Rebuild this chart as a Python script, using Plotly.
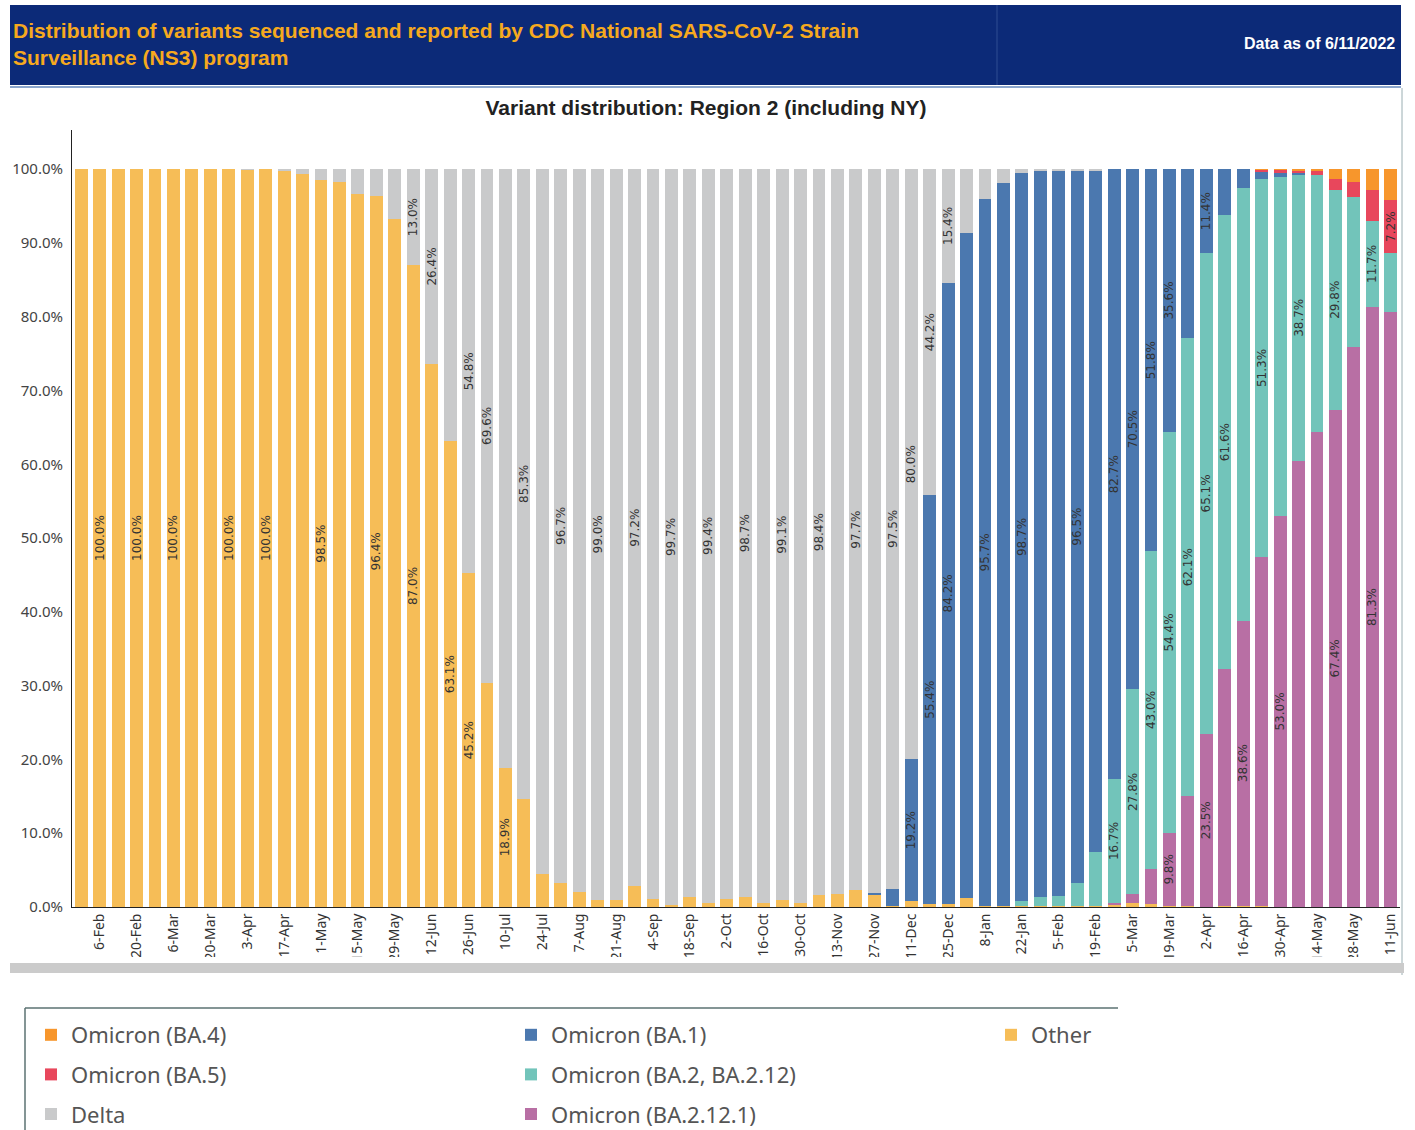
import plotly.graph_objects as go

# ---------------- data ----------------
weeks = ["30-Jan", "6-Feb", "13-Feb", "20-Feb", "27-Feb", "6-Mar", "13-Mar", "20-Mar", "27-Mar", "3-Apr",
         "10-Apr", "17-Apr", "24-Apr", "1-May", "8-May", "15-May", "22-May", "29-May", "5-Jun", "12-Jun",
         "19-Jun", "26-Jun", "3-Jul", "10-Jul", "17-Jul", "24-Jul", "31-Jul", "7-Aug", "14-Aug", "21-Aug",
         "28-Aug", "4-Sep", "11-Sep", "18-Sep", "25-Sep", "2-Oct", "9-Oct", "16-Oct", "23-Oct", "30-Oct",
         "6-Nov", "13-Nov", "20-Nov", "27-Nov", "4-Dec", "11-Dec", "18-Dec", "25-Dec", "1-Jan", "8-Jan",
         "15-Jan", "22-Jan", "29-Jan", "5-Feb", "12-Feb", "19-Feb", "26-Feb", "5-Mar", "12-Mar", "19-Mar",
         "26-Mar", "2-Apr", "9-Apr", "16-Apr", "23-Apr", "30-Apr", "7-May", "14-May", "21-May", "28-May",
         "4-Jun", "11-Jun"]

tick_weeks = ["6-Feb", "20-Feb", "6-Mar", "20-Mar", "3-Apr", "17-Apr", "1-May", "15-May", "29-May", "12-Jun",
              "26-Jun", "10-Jul", "24-Jul", "7-Aug", "21-Aug", "4-Sep", "18-Sep", "2-Oct", "16-Oct", "30-Oct",
              "13-Nov", "27-Nov", "11-Dec", "25-Dec", "8-Jan", "22-Jan", "5-Feb", "19-Feb", "5-Mar", "19-Mar",
              "2-Apr", "16-Apr", "30-Apr", "14-May", "28-May", "11-Jun"]

y_ticks = [0, 10, 20, 30, 40, 50, 60, 70, 80, 90, 100]
y_tick_text = ["0.0%", "10.0%", "20.0%", "30.0%", "40.0%", "50.0%", "60.0%", "70.0%", "80.0%", "90.0%", "100.0%"]

other = [100.0, 100.0, 100.0, 100.0, 100.0, 100.0, 100.0, 100.0, 100.0, 99.9,
         100.0, 99.8, 99.4, 98.5, 98.2, 96.6, 96.4, 93.2, 87.0, 73.6,
         63.1, 45.2, 30.4, 18.9, 14.7, 4.5, 3.3, 2.1, 1.0, 0.9,
         2.8, 1.1, 0.3, 1.4, 0.6, 1.1, 1.3, 0.5, 0.9, 0.6,
         1.6, 1.7, 2.3, 1.7, 0.2, 0.8, 0.4, 0.4, 1.2, 0.2,
         0.2, 0.2, 0.2, 0.2, 0.2, 0.2, 0.3, 0.5, 0.4, 0.2,
         0.2, 0.0, 0.2, 0.2, 0.1, 0.0, 0.0, 0.0, 0.0, 0.0,
         0.0, 0.0]

ba2121 = [0.0] * 56 + [0.3, 1.2, 4.8, 9.8, 14.8, 23.5, 32.0, 38.6, 47.3, 53.0,
                       60.5, 64.4, 67.4, 75.9, 81.3, 80.7]

ba2 = [0.0] * 51 + [0.6, 1.2, 1.3, 3.1, 7.2, 16.7, 27.8, 43.0, 54.4, 62.1,
                    65.1, 61.6, 58.7, 51.3, 45.9, 38.7, 34.8, 29.8, 20.3, 11.7,
                    7.9]

ba1 = [0.0] * 43 + [0.2, 2.3, 19.2, 55.4, 84.2, 90.2, 95.7, 97.9, 98.7, 98.3,
                    98.3, 96.5, 92.4, 82.7, 70.5, 51.8, 35.6, 22.9, 11.4, 6.2,
                    2.5, 0.9, 0.6, 0.3, 0.0, 0.0, 0.0, 0.0, 0.0]

delta = [0.0, 0.0, 0.0, 0.0, 0.0, 0.0, 0.0, 0.0, 0.0, 0.1,
         0.0, 0.2, 0.6, 1.5, 1.8, 3.4, 3.6, 6.8, 13.0, 26.4,
         36.9, 54.8, 69.6, 81.1, 85.3, 95.5, 96.7, 97.9, 99.0, 99.1,
         97.2, 98.9, 99.7, 98.6, 99.4, 98.9, 98.7, 99.5, 99.1, 99.4,
         98.4, 98.3, 97.7, 98.1, 97.5, 80.0, 44.2, 15.4, 8.6, 4.1,
         1.9, 0.5, 0.3, 0.2, 0.2, 0.2] + [0.0] * 16

ba5 = [0.0] * 64 + [0.3, 0.4, 0.3, 0.5, 1.5, 2.0, 4.2, 7.2]
ba4 = [0.0] * 64 + [0.1, 0.1, 0.2, 0.3, 1.3, 1.8, 2.8, 4.2]

# bar numbers (1-based) whose segment shows its value label
other_lbl = [2, 4, 6, 9, 11, 14, 17, 19, 21, 22, 24]
delta_lbl = [19, 20, 22, 23, 25, 27, 29, 31, 33, 35, 37, 39, 41, 43, 45, 46, 47, 48]
ba1_lbl = [46, 47, 48, 50, 52, 55, 57, 58, 59, 60, 62]
ba2_lbl = [57, 58, 59, 60, 61, 62, 63, 65, 67, 69, 71]
ba2121_lbl = [60, 62, 64, 66, 69, 71]
ba5_lbl = [72]
ba4_lbl = []

# name, values, labels, color, legend, legend rank (stack order bottom -> top)
series = [
    ("Other", other, other_lbl, "#F6BD57", "legend3", 1),
    ("Omicron (BA.2.12.1)", ba2121, ba2121_lbl, "#B86FA4", "legend2", 3),
    ("Omicron (BA.2, BA.2.12)", ba2, ba2_lbl, "#72C4BA", "legend2", 2),
    ("Omicron (BA.1)", ba1, ba1_lbl, "#4B78AF", "legend2", 1),
    ("Delta", delta, delta_lbl, "#C9CACB", "legend", 3),
    ("Omicron (BA.5)", ba5, ba5_lbl, "#E8475C", "legend", 2),
    ("Omicron (BA.4)", ba4, ba4_lbl, "#F7962C", "legend", 1),
]

# ---------------- geometry helpers (pixel -> paper) ----------------
W, H = 1415, 1130
L, R, T, B = 72, 1400, 130, 907


def fx(px):
    return (px - L) / (R - L)


def fy(py):
    return (B - py) / (B - T)


fig = go.Figure()
for name, vals, lbl, color, leg, rank in series:
    txt = [f"{v:.1f}%" if (i + 1) in lbl else "" for i, v in enumerate(vals)]
    fig.add_trace(go.Bar(
        x=weeks, y=vals, name=name, legend=leg, legendgroup=name, legendrank=rank,
        marker=dict(color=color, line=dict(width=0)),
        text=txt, textposition="inside", insidetextanchor="middle",
        textangle=-90, constraintext="none",
        textfont=dict(family="DejaVu Sans", size=12, color="#333333"),
        hovertemplate="%{x}: %{y:.1f}%<extra>" + name + "</extra>",
    ))

legend_common = dict(
    orientation="v", xanchor="left", yanchor="top", bgcolor="rgba(0,0,0,0)",
    font=dict(family="Noto Sans", size=22, color="#555555"),
    traceorder="grouped", tracegroupgap=8, itemwidth=30,
)

shapes = [
    # header band
    dict(type="rect", xref="paper", yref="paper", x0=fx(10), x1=fx(1401), y0=fy(85), y1=fy(5),
         fillcolor="#0C2A78", line=dict(width=0), layer="above"),
    dict(type="line", xref="paper", yref="paper", x0=fx(997), x1=fx(997), y0=fy(85), y1=fy(5),
         line=dict(color="#2E4C92", width=1), layer="above"),
    dict(type="line", xref="paper", yref="paper", x0=fx(10), x1=fx(1401), y0=fy(87), y1=fy(87),
         line=dict(color="#8AA5CC", width=2), layer="above"),
    # right frame
    dict(type="line", xref="paper", yref="paper", x0=fx(1402), x1=fx(1402), y0=fy(88), y1=fy(975),
         line=dict(color="#9AAEB2", width=1), layer="above"),
    # clipping strip and scrollbar under the x labels
    dict(type="rect", xref="paper", yref="paper", x0=fx(60), x1=fx(1401), y0=fy(963), y1=fy(957),
         fillcolor="white", line=dict(width=0), layer="above"),
    dict(type="rect", xref="paper", yref="paper", x0=fx(10), x1=fx(1404), y0=fy(973), y1=fy(963),
         fillcolor="#CBCBCB", line=dict(width=0), layer="above"),
    # legend box (top and left edges)
    dict(type="line", xref="paper", yref="paper", x0=fx(25), x1=fx(1118), y0=fy(1008), y1=fy(1008),
         line=dict(color="#5B7272", width=1.5), layer="above"),
    dict(type="line", xref="paper", yref="paper", x0=fx(25), x1=fx(25), y0=fy(1008), y1=fy(1135),
         line=dict(color="#5B7272", width=1.5), layer="above"),
]

annotations = [
    dict(text="<b>Distribution of variants sequenced and reported by CDC National SARS-CoV-2 Strain<br>"
              "Surveillance (NS3) program</b>",
         xref="paper", yref="paper", x=fx(11), y=fy(44), xanchor="left", yanchor="middle",
         align="left", showarrow=False,
         font=dict(family="Liberation Sans", size=21, color="#F6A91E")),
    dict(text="<b>Data as of 6/11/2022</b>", xref="paper", yref="paper", x=fx(1397), y=fy(44),
         xanchor="right", yanchor="middle", showarrow=False,
         font=dict(family="Liberation Sans", size=16, color="white")),
]

fig.update_layout(
    width=W, height=H,
    margin=dict(l=L, r=W - R, t=T, b=H - B, autoexpand=False),
    paper_bgcolor="white", plot_bgcolor="white",
    barmode="stack", bargap=0.3,
    title=dict(text="<b>Variant distribution: Region 2 (including NY)</b>",
               x=706 / W, xanchor="center", y=1 - 108 / H, yanchor="middle",
               font=dict(family="Liberation Sans", size=21, color="#222222")),
    xaxis=dict(type="category", categoryorder="array", categoryarray=weeks,
               range=[-0.5, len(weeks) - 0.5],
               tickmode="array", tickvals=tick_weeks, ticktext=tick_weeks,
               tickangle=-90, showline=True, linecolor="#222222", linewidth=1,
               showgrid=False, ticks="", zeroline=False,
               tickfont=dict(family="Noto Sans", size=14, color="#333333")),
    yaxis=dict(range=[0, 105.3], tickmode="array", tickvals=y_ticks, ticktext=y_tick_text,
               showline=True, linecolor="#222222",
               linewidth=1, showgrid=False, zeroline=False, ticks="",
               ticklabelstandoff=5,
               tickfont=dict(family="Noto Sans", size=15, color="#444444")),
    legend=dict(x=fx(31), y=fy(1014), **legend_common),
    legend2=dict(x=fx(511), y=fy(1014), **legend_common),
    legend3=dict(x=fx(991), y=fy(1014), **legend_common),
    showlegend=True,
    shapes=shapes,
    annotations=annotations,
)

fig.write_html("out.html", config={"displayModeBar": False},
               post_script="document.body.style.margin='0';")
